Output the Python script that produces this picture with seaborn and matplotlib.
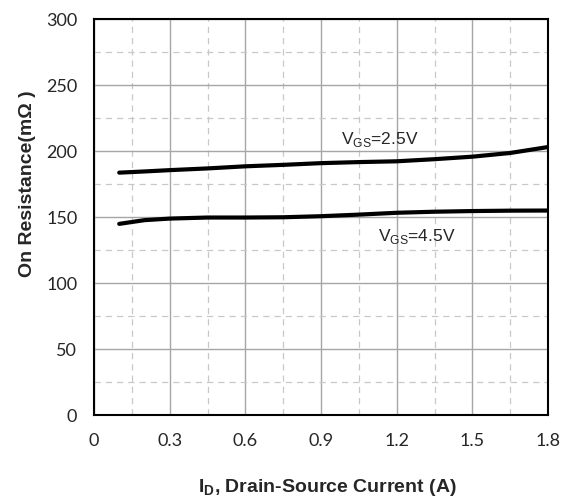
import numpy as np
import pandas as pd
import matplotlib
matplotlib.use("Agg")
import matplotlib.pyplot as plt
import seaborn as sns
from matplotlib.ticker import MultipleLocator

# current (A) and on-resistance (mOhm)
current = [0.1, 0.2, 0.3, 0.45, 0.6, 0.75, 0.9, 1.05, 1.2, 1.35, 1.5, 1.65, 1.8]
rds_25 = [183.6, 184.5, 185.5, 186.8, 188.4, 189.5, 190.8, 191.6, 192.2, 193.8, 195.7, 198.5, 203.0]
rds_45 = [144.8, 147.6, 148.8, 149.6, 149.6, 149.8, 150.6, 151.8, 153.2, 154.0, 154.5, 154.8, 154.9]
series_names = ["VGS=2.5V", "VGS=4.5V"]
x_ticks = [0, 0.3, 0.6, 0.9, 1.2, 1.5, 1.8]
x_tick_labels = ["0", "0.3", "0.6", "0.9", "1.2", "1.5", "1.8"]

df = pd.concat([
    pd.DataFrame({"I": current, "R": rds_25, "vgs": series_names[0]}),
    pd.DataFrame({"I": current, "R": rds_45, "vgs": series_names[1]}),
])

sns.set_style("white")
plt.rcParams["font.family"] = ["Liberation Sans", "DejaVu Sans"]

fig = plt.figure(figsize=(5.65, 5.01), dpi=100)
# axes box placed to match the reference (pixels: left 94, right 548, top 19, bottom 415)
ax = fig.add_axes([94 / 565, 1 - 415 / 501, 454 / 565, 396 / 501])

sns.lineplot(data=df, x="I", y="R", hue="vgs", palette=["black", "black"],
             linewidth=3, legend=False, ax=ax, zorder=3)

ax.set_xlim(0, 1.8)
ax.set_ylim(0, 300)
ax.set_xticks(x_ticks)
ax.set_xticklabels(x_tick_labels)
ax.xaxis.set_minor_locator(MultipleLocator(0.15))
ax.yaxis.set_major_locator(MultipleLocator(50))
ax.yaxis.set_minor_locator(MultipleLocator(25))

ax.grid(which="major", color="#a6a6a6", linewidth=1.0, linestyle="-")
ax.grid(which="minor", color="#c8c8c8", linewidth=0.9, linestyle=(0, (5, 4)))
ax.set_axisbelow(True)
ax.tick_params(which="both", length=0)
ax.tick_params(axis="x", pad=13, labelsize=13)
ax.tick_params(axis="y", pad=12, labelsize=13)
for lab in ax.get_xticklabels() + ax.get_yticklabels():
    lab.set_family(["Lato", "DejaVu Sans"])

for s in ax.spines.values():
    s.set_color("black")
    s.set_linewidth(1.5)

ax.set_xlabel(r"I$_\mathregular{D}$, Drain-Source Current (A)", fontsize=14, fontweight="bold")
ax.set_ylabel("On Resistance(mΩ )", fontsize=14, fontweight="bold")
ax.xaxis.set_label_coords(0.515, -0.157)
ax.yaxis.set_label_coords(-0.128, 0.585)

ax.text(0.98, 208.5, r"V$_\mathregular{GS}$=2.5V", fontsize=12.5, ha="left", va="center")
ax.text(1.126, 135.5, r"V$_\mathregular{GS}$=4.5V", fontsize=12.5, ha="left", va="center")

fig.savefig("out.png", dpi=100)
